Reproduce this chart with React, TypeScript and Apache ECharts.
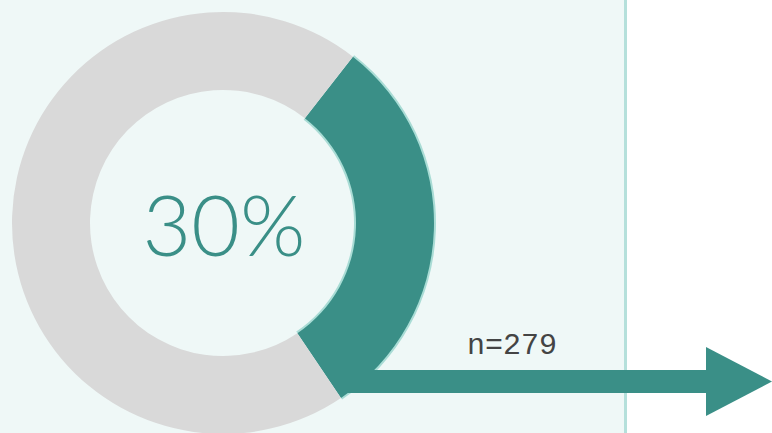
import React, { useEffect, useRef } from "react";
import * as echarts from "echarts";

const sliceNames = ["Yes", "No"];
const sliceValues = [30, 70];
const sliceColors = ["#3a8f87", "#d9d9d9"];
const centerLabel = "30%";
const sampleLabel = "n=279";

export default function App() {
  const ref = useRef<HTMLDivElement>(null);
  useEffect(() => {
    document.body.style.margin = "0";
    const chart = echarts.init(ref.current!, null, { renderer: "svg" });
    const data = sliceNames.map((n, i) => ({
      name: n,
      value: sliceValues[i],
      itemStyle: { color: sliceColors[i] },
    }));
    const halo = sliceNames.map((n, i) => ({
      name: n,
      value: sliceValues[i],
      itemStyle: { color: i === 0 ? "#a9dcd5" : "rgba(0,0,0,0)" },
    }));
    chart.setOption({
      animation: false,
      title: [
        {
          text: centerLabel,
          left: 224,
          top: 223,
          textAlign: "center",
          textVerticalAlign: "middle",
          padding: 0,
          textStyle: {
            color: "#3a8f87",
            fontFamily: "Lato",
            fontWeight: 300,
            fontSize: 84,
          },
        },
        {
          text: sampleLabel,
          left: 512,
          top: 346,
          textAlign: "center",
          textVerticalAlign: "middle",
          padding: 0,
          textStyle: {
            color: "#444444",
            fontFamily: "Liberation Mono",
            fontWeight: "normal",
            fontSize: 30,
          },
        },
      ],
      graphic: [
        { type: "rect", z: -10, shape: { x: 0, y: 0, width: 624, height: 433 }, style: { fill: "#eff8f7" } },
        { type: "rect", z: -10, shape: { x: 624, y: 0, width: 3, height: 433 }, style: { fill: "#b5e0db" } },
        { type: "rect", z: 10, shape: { x: 343, y: 370, width: 364, height: 23 }, style: { fill: "#3a8f87" } },
        {
          type: "polygon",
          z: 10,
          shape: { points: [[706, 347], [772, 381.5], [706, 416]] },
          style: { fill: "#3a8f87" },
        },
      ],
      series: [
        {
          type: "pie",
          silent: true,
          center: [223, 223],
          radius: [131, 213],
          startAngle: 52,
          clockwise: true,
          label: { show: false },
          labelLine: { show: false },
          data: halo,
          z: 1,
        },
        {
          type: "pie",
          silent: true,
          center: [223, 223],
          radius: [133, 211],
          startAngle: 52,
          clockwise: true,
          label: { show: false },
          labelLine: { show: false },
          data,
          z: 2,
        },
      ],
    });
    return () => chart.dispose();
  }, []);
  return <div ref={ref} style={{ width: 772, height: 433 }} />;
}
